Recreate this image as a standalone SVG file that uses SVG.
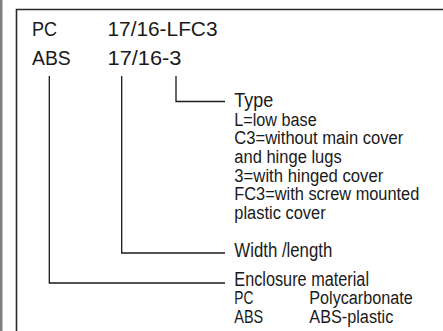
<svg xmlns="http://www.w3.org/2000/svg" width="443" height="331" viewBox="0 0 443 331">
<style>
text{font-family:"Liberation Sans",Arial,sans-serif;fill:#1a1a1a}
.big{font-size:20.5px}
.hd{font-size:19.5px}
.dt{font-size:18px}
.ln{fill:none;stroke:#1a1a1a;stroke-width:1.3}
.frame{fill:none;stroke:#2a2a2a;stroke-width:1.6}
</style>
<rect x="0" y="0" width="443" height="331" fill="#fff"/>
<rect x="0" y="0" width="2.5" height="331" fill="#808080"/>
<path class="frame" d="M16.5 331 V9.5 H443"/>
<g id="code">
<text class="big" x="32" y="36" textLength="25" lengthAdjust="spacingAndGlyphs">PC</text>
<text class="big" x="107.5" y="36" textLength="110" lengthAdjust="spacingAndGlyphs">17/16-LFC3</text>
<text class="big" x="32" y="64.5" textLength="38.7" lengthAdjust="spacingAndGlyphs">ABS</text>
<text class="big" x="107.5" y="64.5" textLength="74" lengthAdjust="spacingAndGlyphs">17/16-3</text>
</g>
<g id="connectors">
<path class="ln" d="M176 76 V101.5 H225"/>
<path class="ln" d="M121.7 76 V253 H225"/>
<path class="ln" d="M49.3 76 V283 H225"/>
</g>
<g id="type">
<text class="hd" x="234.3" y="106.7" textLength="39" lengthAdjust="spacingAndGlyphs">Type</text>
<text class="dt" x="234.3" y="125.7" textLength="82.4" lengthAdjust="spacingAndGlyphs">L=low base</text>
<text class="dt" x="234.3" y="144.3" textLength="169" lengthAdjust="spacingAndGlyphs">C3=without main cover</text>
<text class="dt" x="234.3" y="162.9" textLength="107.4" lengthAdjust="spacingAndGlyphs">and hinge lugs</text>
<text class="dt" x="234.3" y="181.5" textLength="149" lengthAdjust="spacingAndGlyphs">3=with hinged cover</text>
<text class="dt" x="234.3" y="200.1" textLength="185" lengthAdjust="spacingAndGlyphs">FC3=with screw mounted</text>
<text class="dt" x="234.3" y="218.7" textLength="91.4" lengthAdjust="spacingAndGlyphs">plastic cover</text>
</g>
<g id="width">
<text class="hd" x="234.3" y="256.5" textLength="98" lengthAdjust="spacingAndGlyphs">Width /length</text>
</g>
<g id="material">
<text class="hd" x="234.3" y="285.5" textLength="134.7" lengthAdjust="spacingAndGlyphs">Enclosure material</text>
<text class="dt" x="234.3" y="304" textLength="19" lengthAdjust="spacingAndGlyphs">PC</text>
<text class="dt" x="309.3" y="304" textLength="103.4" lengthAdjust="spacingAndGlyphs">Polycarbonate</text>
<text class="dt" x="234.3" y="322.5" textLength="29" lengthAdjust="spacingAndGlyphs">ABS</text>
<text class="dt" x="309.3" y="322.5" textLength="84" lengthAdjust="spacingAndGlyphs">ABS-plastic</text>
</g>
</svg>
